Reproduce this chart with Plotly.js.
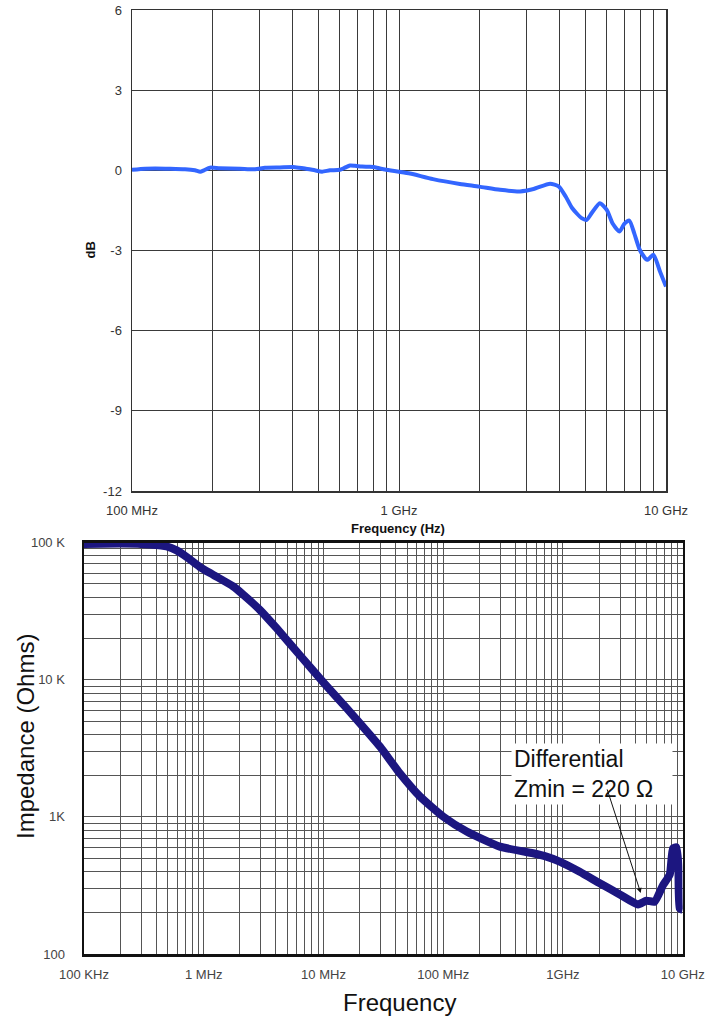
<!DOCTYPE html>
<html>
<head>
<meta charset="utf-8">
<script src="https://cdn.plot.ly/plotly-3.0.1.min.js"></script>
<style>
  html, body { margin: 0; padding: 0; background: #fff; }
  #chart { width: 712px; height: 1017px; }
</style>
</head>
<body>
<div id="chart"></div>
<script>
// ---------- Top chart: insertion loss (dB) vs frequency ----------
const topFreqGHz = [0.100, 0.112, 0.122, 0.139, 0.158, 0.172, 0.180, 0.186, 0.196, 0.213,
  0.254, 0.289, 0.315, 0.358, 0.408, 0.444, 0.484, 0.515, 0.551, 0.600,
  0.627, 0.655, 0.684, 0.727, 0.778, 0.826, 0.886, 1.00, 1.10, 1.34,
  1.69, 2.00, 2.39, 2.84, 3.19, 3.68, 3.96, 4.21, 4.45, 4.83,
  5.05, 5.27, 5.65, 6.00, 6.32, 6.70, 6.98, 7.29, 7.60, 7.98,
  8.50, 8.97, 9.50, 10.0];
const topGainDb = [0.02, 0.06, 0.07, 0.06, 0.04, 0.00, -0.05, 0.00, 0.10, 0.08,
  0.06, 0.04, 0.10, 0.11, 0.12, 0.07, 0.00, -0.05, 0.00, 0.02,
  0.10, 0.18, 0.17, 0.14, 0.13, 0.10, 0.03, -0.05, -0.12, -0.33,
  -0.51, -0.61, -0.73, -0.79, -0.70, -0.50, -0.60, -0.98, -1.41, -1.79,
  -1.85, -1.60, -1.23, -1.48, -2.00, -2.29, -2.00, -1.88, -2.35, -2.98,
  -3.35, -3.16, -3.79, -4.35];
const topXTickText = ['100 MHz', '1 GHz', '10 GHz'];
const topYTicks = [-12, -9, -6, -3, 0, 3, 6];

// ---------- Bottom chart: impedance vs frequency ----------
const botFreqHz = [1e5, 2e5, 3e5, 3.55e5, 4.9e5, 5.94e5, 7.2e5, 9.3e5, 1.2e6, 1.76e6,
  2.14e6, 2.94e6, 4.06e6, 6.35e6, 1.01e7, 1.56e7, 2.01e7, 2.96e7, 4.34e7, 6.38e7,
  1.0e8, 1.57e8, 2.97e8, 5.63e8, 7.27e8, 9.4e8, 1.38e9, 2.03e9, 2.98e9, 4.24e9,
  4.98e9, 5.83e9, 6.85e9, 7.8e9, 8.3e9, 8.86e9, 9.2e9, 9.44e9, 1.0e10];
const botImpOhm = [98000, 98500, 98000, 97000, 94000, 87900, 78700, 66400, 58300, 48000,
  41700, 32400, 23800, 15100, 9460, 6210, 4830, 3260, 2080, 1410,
  1005, 782, 607, 543, 513, 472, 398, 328, 272, 230,
  245, 241, 318, 380, 590, 600, 440, 215, 210];
const botXTickText = ['100 KHz', '1 MHz', '10 MHz', '100 MHz', '1GHz', '10 GHz'];
const botYTickText = ['100', '1K', '10 K', '100 K'];
const zminFreqHz = 4.46e9;
const zminOhm = 279;

// ---------- helpers for log grids (1..9 per decade) ----------
function logGrid(d0, d1, labels) {
  const vals = [], text = [];
  let li = 0;
  for (let d = d0; d <= d1; d++) {
    for (let m = 1; m <= 9; m++) {
      if (d === d1 && m > 1) break;
      vals.push(m * Math.pow(10, d));
      text.push(m === 1 ? labels[li++] : '');
    }
  }
  return {vals, text};
}
const topX = logGrid(8, 10, topXTickText);
const botX = logGrid(5, 10, botXTickText);
const botY = logGrid(2, 5, botYTickText);

const FONT = 'Liberation Sans, Arial, Helvetica, sans-serif';

const traces = [
  {
    x: topFreqGHz.map(v => v * 1e9), y: topGainDb,
    xaxis: 'x', yaxis: 'y', type: 'scatter', mode: 'lines',
    line: {color: '#3366FF', width: 4, shape: 'spline', smoothing: 0.6},
    hoverinfo: 'skip', showlegend: false
  },
  {
    x: botFreqHz, y: botImpOhm,
    xaxis: 'x2', yaxis: 'y2', type: 'scatter', mode: 'lines',
    line: {color: '#1c1680', width: 8, shape: 'spline', smoothing: 0.5},
    hoverinfo: 'skip', showlegend: false
  }
];

const layout = {
  width: 712, height: 1017,
  margin: {l: 0, r: 0, t: 0, b: 0},
  paper_bgcolor: '#ffffff', plot_bgcolor: '#ffffff',
  font: {family: FONT, color: '#222', size: 13},
  showlegend: false,
  xaxis: {
    type: 'log', range: [8, 10], domain: [132/712, 666/712], anchor: 'y',
    tickmode: 'array', tickvals: topX.vals, ticktext: topX.text,
    ticks: '', showgrid: true, gridcolor: '#3a3a3a', gridwidth: 1,
    showline: true, mirror: true, linecolor: '#333', linewidth: 1.5,
    tickfont: {family: FONT, size: 13, color: '#333'},
    ticklabelstandoff: 7, zeroline: false, fixedrange: true
  },
  yaxis: {
    range: [-12, 6], domain: [1 - 491/1017, 1 - 10/1017], anchor: 'x',
    tickmode: 'array', tickvals: topYTicks, ticktext: topYTicks.map(String),
    ticks: '', showgrid: true, gridcolor: '#3a3a3a', gridwidth: 1,
    showline: true, mirror: true, linecolor: '#333', linewidth: 1.5,
    tickfont: {family: FONT, size: 13, color: '#333'},
    ticklabelstandoff: 6, zeroline: false, fixedrange: true
  },
  xaxis2: {
    type: 'log', range: [5, 10], domain: [84/712, 682.7/712], anchor: 'y2',
    tickmode: 'array', tickvals: botX.vals, ticktext: botX.text,
    ticks: '', showgrid: true, gridcolor: '#555', gridwidth: 1,
    showline: true, mirror: true, linecolor: '#111', linewidth: 2.5,
    tickfont: {family: FONT, size: 13, color: '#444'},
    ticklabelstandoff: 7, zeroline: false, fixedrange: true
  },
  yaxis2: {
    type: 'log', range: [2, 5], domain: [1 - 954/1017, 1 - 542.7/1017], anchor: 'x2',
    tickmode: 'array', tickvals: botY.vals, ticktext: botY.text,
    ticks: '', showgrid: true, gridcolor: '#555', gridwidth: 1,
    showline: true, mirror: true, linecolor: '#111', linewidth: 2.5,
    tickfont: {family: FONT, size: 13, color: '#444'},
    ticklabelstandoff: 14, zeroline: false, fixedrange: true
  },
  annotations: [
    {text: '<b>dB</b>', xref: 'paper', yref: 'paper', x: 90/712, y: 1 - 250.5/1017,
     xanchor: 'center', yanchor: 'middle', textangle: -90, showarrow: false,
     font: {family: FONT, size: 13, color: '#111'}},
    {text: '<b>Frequency (Hz)</b>', xref: 'paper', yref: 'paper', x: 398/712, y: 1 - 528/1017,
     xanchor: 'center', yanchor: 'middle', showarrow: false,
     font: {family: FONT, size: 13, color: '#111'}},
    {text: 'Impedance (Ohms)', xref: 'paper', yref: 'paper', x: 25/712, y: 1 - 737/1017,
     xanchor: 'center', yanchor: 'middle', textangle: -90, showarrow: false,
     font: {family: FONT, size: 24, color: '#111'}},
    {text: 'Frequency', xref: 'paper', yref: 'paper', x: 399.5/712, y: 1 - 1002/1017,
     xanchor: 'center', yanchor: 'middle', showarrow: false,
     font: {family: FONT, size: 24, color: '#111'}},
    {text: 'Differential<br>Zmin = 220 Ω', xref: 'paper', yref: 'paper',
     x: 511/712, y: 1 - 743/1017, xanchor: 'left', yanchor: 'top', align: 'left',
     showarrow: false, bgcolor: '#ffffff', borderpad: 2, width: 156,
     font: {family: FONT, size: 23, color: '#111'}},
    {text: '', xref: 'x2', yref: 'y2', x: Math.log10(zminFreqHz), y: Math.log10(zminOhm),
     showarrow: true, arrowhead: 2, arrowsize: 1, arrowwidth: 1, arrowcolor: '#111',
     axref: 'pixel', ayref: 'pixel', ax: -34, ay: -105}
  ]
};

Plotly.newPlot('chart', traces, layout, {staticPlot: true, displayModeBar: false});
</script>
</body>
</html>
